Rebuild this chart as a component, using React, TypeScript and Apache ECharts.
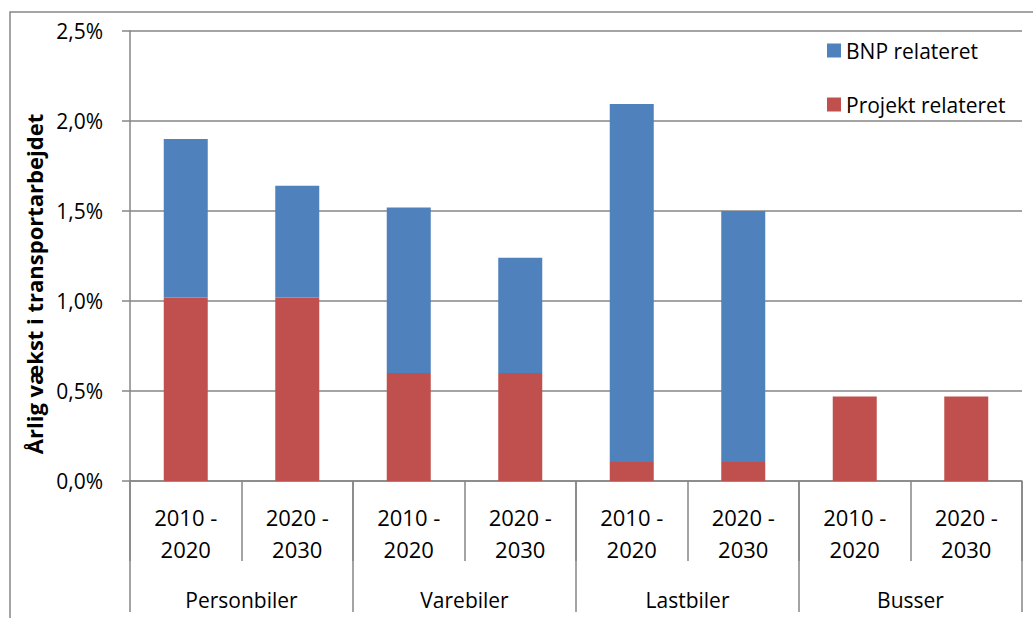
import React, { useEffect, useRef } from "react";
import * as echarts from "echarts";

const periods = ["2010 -\n2020", "2020 -\n2030", "2010 -\n2020", "2020 -\n2030", "2010 -\n2020", "2020 -\n2030", "2010 -\n2020", "2020 -\n2030"];
const groups = ["Personbiler", "Varebiler", "Lastbiler", "Busser"];
const projektRelateret = [1.02, 1.02, 0.6, 0.6, 0.105, 0.105, 0.47, 0.47];
const bnpRelateret = [0.88, 0.62, 0.92, 0.64, 1.99, 1.395, 0, 0];
const yTicks = { min: 0, max: 2.5, interval: 0.5 };

const FONT = "'Open Sans', 'Liberation Sans', sans-serif";
const GRAY = "#868686";

export default function App() {
  const ref = useRef<HTMLDivElement>(null);
  useEffect(() => {
    if (!ref.current) return;
    const chart = echarts.init(ref.current, null, { renderer: "svg" });
    chart.setOption({
      animation: false,
      backgroundColor: "#ffffff",
      textStyle: { fontFamily: FONT },
      grid: { left: 130, right: 11, top: 31, bottom: 137, containLabel: false },
      legend: {
        orient: "vertical",
        left: 822,
        top: 35,
        itemGap: 33,
        itemWidth: 14,
        itemHeight: 14,
        icon: "rect",
        data: ["BNP relateret", "Projekt relateret"],
        textStyle: { fontSize: 21, color: "#000", fontFamily: FONT },
      },
      xAxis: [
        {
          type: "category",
          data: periods,
          position: "bottom",
          axisLine: { lineStyle: { color: GRAY, width: 1.5 } },
          axisTick: { show: true, length: 80, interval: 0, lineStyle: { color: GRAY, width: 1.5 } },
          axisLabel: { interval: 0, fontSize: 22, lineHeight: 32, color: "#000", margin: 20, fontFamily: FONT },
        },
        {
          type: "category",
          data: groups,
          position: "bottom",
          axisLine: { show: false },
          axisTick: { show: true, length: 131, interval: 0, lineStyle: { color: GRAY, width: 1.5 } },
          axisLabel: { interval: 0, fontSize: 21, color: "#000", margin: 108, fontFamily: FONT },
        },
      ],
      yAxis: {
        type: "value",
        min: yTicks.min,
        max: yTicks.max,
        interval: yTicks.interval,
        axisLine: { show: true, lineStyle: { color: GRAY, width: 1.5 } },
        axisTick: { show: true, length: 8, lineStyle: { color: GRAY, width: 1.5 } },
        splitLine: { show: true, lineStyle: { color: GRAY, width: 1.5 } },
        axisLabel: {
          fontSize: 21,
          color: "#000",
          margin: 27,
          fontFamily: FONT,
          formatter: (v: number) => v.toFixed(1).replace(".", ",") + "%",
        },
      },
      series: [
        {
          name: "Projekt relateret",
          type: "bar",
          stack: "total",
          xAxisIndex: 0,
          data: projektRelateret,
          barWidth: 44,
          itemStyle: { color: "#C0504D" },
        },
        {
          name: "BNP relateret",
          type: "bar",
          stack: "total",
          xAxisIndex: 0,
          data: bnpRelateret,
          barWidth: 44,
          itemStyle: { color: "#4F81BD" },
        },
      ],
      graphic: [
        {
          type: "rect",
          silent: true,
          shape: { x: 10, y: 12, width: 1040, height: 700 },
          style: { fill: "none", stroke: GRAY, lineWidth: 1.5 },
        },
        {
          type: "text",
          x: 34,
          y: 284,
          rotation: Math.PI / 2,
          style: {
            text: "Årlig vækst i transportarbejdet",
            fontSize: 22,
            fontWeight: "bold",
            fontFamily: FONT,
            fill: "#000",
            align: "center",
            verticalAlign: "middle",
          },
        },
      ],
    });
    return () => chart.dispose();
  }, []);
  return <div ref={ref} style={{ position: "fixed", left: 0, top: 0, width: 1033, height: 618 }} />;
}
